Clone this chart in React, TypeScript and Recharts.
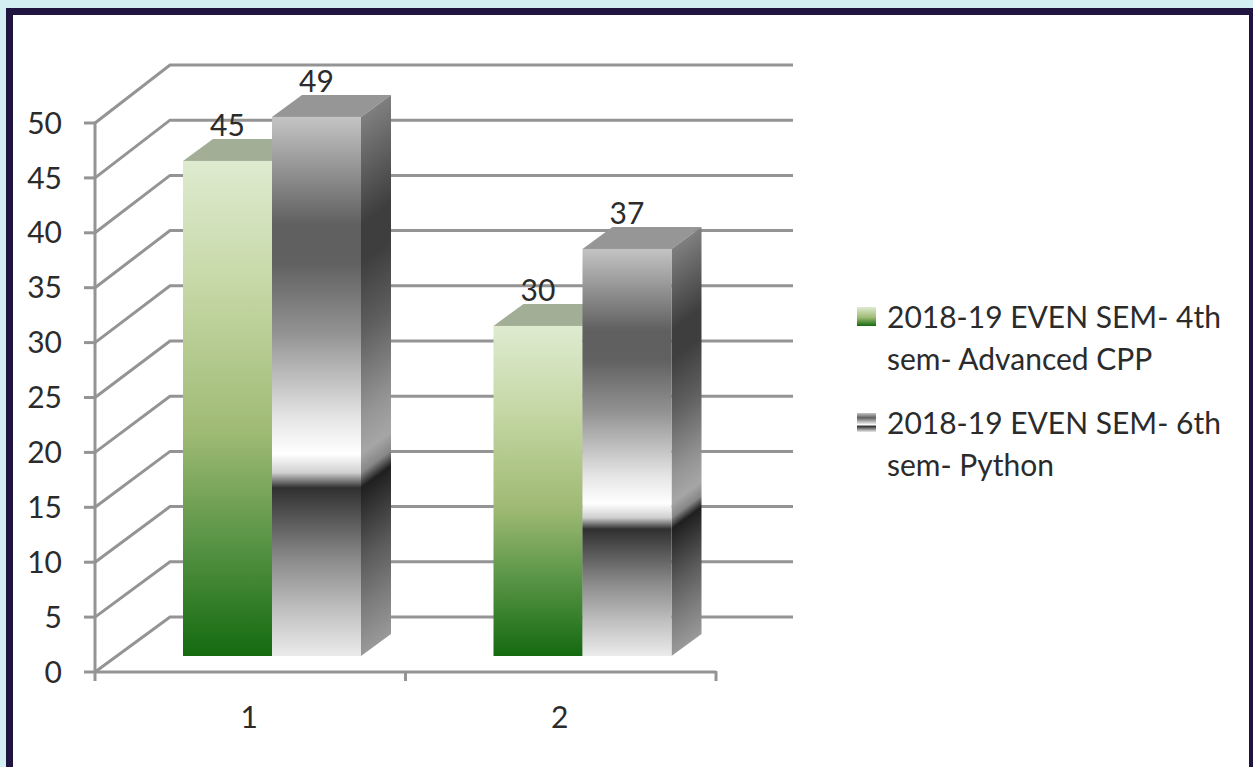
import { BarChart, Bar, XAxis, YAxis, CartesianGrid, Legend } from "recharts";

const categories = ["1", "2"];
const advancedCpp = [45, 30];
const python = [49, 37];
const yTicks = [0, 5, 10, 15, 20, 25, 30, 35, 40, 45, 50];
const seriesNames = [
  "2018-19 EVEN SEM- 4th sem- Advanced CPP",
  "2018-19 EVEN SEM- 6th sem- Python",
];

const data = categories.map((name, i) => ({
  name,
  cpp: advancedCpp[i],
  python: python[i],
}));

const FONT = "Lato, 'Open Sans', sans-serif";
const GRID = "#949494";
const TEXT = "#2b2b2b";

// the walls of the fake 3D box
const WALL_X = 75;
const WALL_Y = 55;
const GRID_END = 793;
const PLOT_BOTTOM = 672;
// back wall is a touch taller than the front axis
const WALL_SCALE = 1.0055;
// bars stand partway into the box
const BAR_DX = 22;
const BAR_DY = 16;
const BAR_SCALE = 1.002;
const DEPTH_X = 30;
const DEPTH_Y = 22;
const BAND = 310.5;

const greenStops: [number, string][] = [
  [0, "#deebd0"],
  [0.25, "#c6d8a6"],
  [0.55, "#9fba74"],
  [0.78, "#559243"],
  [1, "#146a10"],
];

const greyStops: [number, string][] = [
  [0, "#c4c4c4"],
  [0.2, "#606060"],
  [0.27, "#606060"],
  [0.4, "#929292"],
  [0.56, "#e6e6e6"],
  [0.625, "#ffffff"],
  [0.66, "#d0d0d0"],
  [0.688, "#303030"],
  [0.75, "#5a5a5a"],
  [0.82, "#8a8a8a"],
  [0.915, "#c0c0c0"],
  [1, "#ebebeb"],
];

const darken = (hex: string, k: number) => {
  const v = parseInt(hex.slice(1), 16);
  const c = [(v >> 16) & 255, (v >> 8) & 255, v & 255].map((n) => Math.round(n * k));
  return `rgb(${c[0]},${c[1]},${c[2]})`;
};

const Stops = ({ stops, k = 1 }: { stops: [number, string][]; k?: number }) => (
  <>
    {stops.map(([o, c]) => (
      <stop key={o} offset={o} stopColor={k === 1 ? c : darken(c, k)} />
    ))}
  </>
);

const Box = (props: any) => {
  const { x, y, width, height: rawHeight, stops, topFill, sideK, id } = props;
  const height = rawHeight * BAR_SCALE;
  const fx = x + BAR_DX;
  const b = y + rawHeight - BAR_DY;
  const fy = b - height;
  const r = fx + width;
  // side gradient runs square to the depth edge so the bands slant
  const d = (height * DEPTH_X) / (DEPTH_X * DEPTH_X + DEPTH_Y * DEPTH_Y);
  return (
    <g>
      <defs>
        <linearGradient id={`front-${id}`} x1="0" y1="0" x2="0" y2="1">
          <Stops stops={stops} />
        </linearGradient>
        <linearGradient
          id={`side-${id}`}
          gradientUnits="userSpaceOnUse"
          x1={r}
          y1={fy}
          x2={r + DEPTH_Y * d}
          y2={fy + DEPTH_X * d}
        >
          <Stops stops={stops} k={sideK} />
        </linearGradient>
      </defs>
      <polygon
        points={`${fx},${fy} ${fx + DEPTH_X},${fy - DEPTH_Y} ${r + DEPTH_X},${fy - DEPTH_Y} ${r},${fy}`}
        fill={topFill}
      />
      <polygon
        points={`${r},${fy} ${r + DEPTH_X},${fy - DEPTH_Y} ${r + DEPTH_X},${b - DEPTH_Y} ${r},${b}`}
        fill={`url(#side-${id})`}
      />
      <rect x={fx} y={fy} width={width} height={height} fill={`url(#front-${id})`} />
    </g>
  );
};

const BarLabel = ({ x, y, width, value }: any) => (
  <text
    x={x + BAR_DX + width / 2}
    y={y - BAR_DY - 26}
    textAnchor="middle"
    fontSize={30}
    fontFamily={FONT}
    fill={TEXT}
  >
    {value}
  </text>
);

const WallLine = ({ x1, y1 }: any) => {
  const backY = PLOT_BOTTOM - WALL_Y - (PLOT_BOTTOM - y1) * WALL_SCALE;
  return (
    <polyline
      points={`${x1},${y1} ${x1 + WALL_X},${backY} ${GRID_END},${backY}`}
      fill="none"
      stroke={GRID}
      strokeWidth={3}
    />
  );
};

const CategoryTick = ({ x, y, payload, index }: any) => (
  <g>
    <line x1={x - BAND / 2} y1={y - 9} x2={x - BAND / 2} y2={y + 1} stroke={GRID} strokeWidth={3} />
    {index === categories.length - 1 && (
      <line x1={x + BAND / 2} y1={y - 9} x2={x + BAND / 2} y2={y + 1} stroke={GRID} strokeWidth={3} />
    )}
    <text x={x - 1} y={y + 48} textAnchor="middle" fontSize={30} fontFamily={FONT} fill={TEXT}>
      {payload.value}
    </text>
  </g>
);

const LegendBlock = () => (
  <div style={{ fontFamily: FONT, fontSize: 30, lineHeight: "42px", color: TEXT }}>
    {seriesNames.map((name, i) => (
      <div key={name} style={{ position: "relative", paddingLeft: 30, width: 345, marginBottom: i === 0 ? 22 : 0 }}>
        <div
          style={{
            position: "absolute",
            left: 0,
            top: 12,
            width: 19,
            height: 19,
            background:
              i === 0
                ? "linear-gradient(#deebd0, #9fba74 55%, #146a10)"
                : "linear-gradient(#c4c4c4, #606060 25%, #fff 62%, #333 70%, #ebebeb)",
          }}
        />
        {name}
      </div>
    ))}
  </div>
);

export default function App() {
  return (
    <div style={{ position: "fixed", inset: 0, overflow: "hidden", background: "#d4eff1" }}>
      <div
        style={{
          position: "absolute",
          left: 6,
          top: 8,
          width: 1250,
          height: 800,
          background: "#fff",
          border: "7px solid #1f1540",
          boxSizing: "border-box",
        }}
      />
      <div style={{ position: "absolute", left: 0, top: 0 }}>
        <BarChart
          width={1253}
          height={767}
          data={data}
          barGap={0}
          barCategoryGap={66}
          margin={{ top: 123, right: 537, bottom: 0, left: 0 }}
        >
          <CartesianGrid vertical={false} horizontal={(p: any) => <WallLine key={p.key ?? p.y1} {...p} />} />
          <XAxis
            dataKey="name"
            height={95}
            axisLine={{ stroke: GRID, strokeWidth: 3 }}
            tickLine={false}
            tick={<CategoryTick />}
          />
          <YAxis
            width={95}
            domain={[0, 50]}
            ticks={yTicks}
            interval={0}
            axisLine={{ stroke: GRID, strokeWidth: 3 }}
            tickLine={{ stroke: GRID, strokeWidth: 3 }}
            tickSize={11}
            tickMargin={22}
            tick={{ fontSize: 30, fontFamily: FONT, fill: TEXT }}
          />
          {/* horizontal + center + middle keeps the legend from taking room off the plot */}
          <Legend
            layout="horizontal"
            align="center"
            verticalAlign="middle"
            wrapperStyle={{ left: 857, top: 295, right: "auto", bottom: "auto", width: 375 }}
            content={<LegendBlock />}
          />
          <Bar
            dataKey="cpp"
            isAnimationActive={false}
            shape={(p: any) => (
              <Box {...p} id={`cpp-${p.index}`} stops={greenStops} topFill="#a3ae97" sideK={0.7} />
            )}
            label={<BarLabel />}
          />
          <Bar
            dataKey="python"
            isAnimationActive={false}
            shape={(p: any) => (
              <Box {...p} id={`py-${p.index}`} stops={greyStops} topFill="#969696" sideK={0.65} />
            )}
            label={<BarLabel />}
          />
        </BarChart>
      </div>
    </div>
  );
}
